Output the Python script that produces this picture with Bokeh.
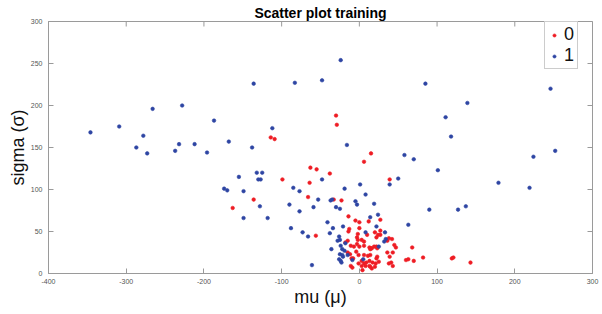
import math
from bokeh.plotting import figure
from bokeh.models import ColumnDataSource, FixedTicker, Range1d
from bokeh.embed import file_html
from bokeh.resources import INLINE

# ---- data ----
blue_mu = [-346, -309, -266, -278, -287, -273, -228, -232, -237, -212, -187, -196, -168,
           -155, -174, -170, -149, -149, -132, -125, -130, -127, -128, -118, -85, -77, -90,
           -77, -88, -136, -83, -48, -24, -112, -138, -16, 58, -48, 50, -19, 1, 39, 85, 139,
           111, 118, 70, 101, 246, 224, 252, 179, 219, 19, 24, 14, 90, 127, 137, 63, 22, 33,
           34, 32, 25, -53, -37, -35, 8, -5, -3, -59, -30, -25, -41, -34, -21, -73, -66, -38,
           -26, -28, 8, -24, -22, -19, -26, -24, -21, -15, -61, -36, -25, -22, -9, 5, -23,
           -25, -18]
blue_sigma = [168, 175, 196, 164, 150, 143, 200, 154, 146, 154, 182, 144, 157,
              115, 101, 99, 98, 66, 120, 120, 112, 112, 80, 66, 102, 98, 82,
              74, 54, 226, 227, 230, 254, 173, 150, 153, 141, 112, 113, 101, 106, 106, 226, 203,
              186, 163, 136, 123, 220, 139, 146, 108, 102, 83, 70, 67, 76, 76, 80, 58, 56, 49,
              41, 38, 32, 88, 87, 88, 94, 86, 82, 79, 79, 77, 61, 54, 56, 49, 44, 48,
              44, 39, 49, 33, 29, 27, 17, 15, 20, 22, 10, 29, 23, 22, 16, 17, 13,
              40, 36]

red_mu = [-163, -99, -136, -30, -29, -114, -109, 15, 6, -63, -55, -38, 39, -64, -66, -33, -23,
          -14, -5, 0, 12, 27, -13, 0, -56, -14, -2, 10, 20, 27, 24, 27, 22, 38, 42, 36, 45,
          47, 68, 16, 14, 23, 36, 43, 14, 23, 22, 39, 60, 63, 82, 70, 119, 121, 143, 25, 21,
          38, 41, 43, 14, -15, -18, -3, -2, 3, 6, -11, -7, -3, 0, 6, 13, 15, 19, 22, -15, -12,
          -4, -1, 6, 11, -10, -8, 3, 9, 13, 6, 17, -11, -1, 4, 3, 13, 20, -9, 8, 16]
red_sigma = [78, 112, 88, 188, 177, 162, 160, 143, 133, 126, 124, 119, 112, 108, 91, 88, 87,
             68, 63, 61, 62, 64, 53, 54, 45, 50, 47, 46, 49, 51, 46, 46, 43, 42, 41, 39, 34,
             31, 31, 30, 29, 30, 25, 25, 22, 20, 18, 20, 16, 17, 19, 15, 18, 19, 13, 14, 12,
             12, 13, 9, 8, 39, 37, 43, 40, 40, 38, 33, 32, 35, 32, 33, 31, 30, 32, 32, 25, 23,
             26, 22, 22, 21, 18, 18, 15, 13, 15, 12, 13, 9, 12, 4, 9, 9, 8, 7, 9, 6]

class_labels = ["0", "1"]
title_text = "Scatter plot training"
x_label = "mu (μ)"
y_label = "sigma (σ)"
x_ticks = [-400, -300, -200, -100, 0, 100, 200, 300]
x_tick_labels = ["-400", "-300", "-200", "-100", "0", "100", "200", "300"]
y_ticks = [0, 50, 100, 150, 200, 250, 300]
y_tick_labels = ["0", "50", "100", "150", "200", "250", "300"]

X_MIN, X_MAX = x_ticks[0], x_ticks[-1]
Y_MIN, Y_MAX = y_ticks[0], y_ticks[-1]

FONT = "Liberation Sans"
AXIS_GRAY = "#9a9a9a"
RED = "#ee1c24"
BLUE = "#2e45a3"

p = figure(frame_width=544, frame_height=252,
           x_range=Range1d(X_MIN, X_MAX), y_range=Range1d(Y_MIN, Y_MAX),
           output_backend="svg", toolbar_location=None, title=title_text,
           min_border_left=48, min_border_right=8, min_border_top=21, min_border_bottom=39)
p.xgrid.visible = False
p.ygrid.visible = False
p.outline_line_color = AXIS_GRAY
p.outline_line_width = 1
p.background_fill_color = "white"
p.border_fill_color = "white"

p.title.align = "center"
p.title.text_font = FONT
p.title.text_font_size = "14px"
p.title.text_font_style = "bold"
p.title.text_color = "#000000"
p.title.text_line_height = 1.0
p.title.standoff = 2

src0 = ColumnDataSource(dict(mu=red_mu, sigma=red_sigma))
src1 = ColumnDataSource(dict(mu=blue_mu, sigma=blue_sigma))
p.scatter("mu", "sigma", source=src0, size=3.6, fill_color=RED, line_color=RED,
          line_width=0.6, legend_label=class_labels[0])
p.scatter("mu", "sigma", source=src1, size=3.6, fill_color=BLUE, line_color=BLUE,
          line_width=0.6, legend_label=class_labels[1])

# inward ticks on the top and right edges of the box (clipped to the frame)
p.scatter(x_ticks, [Y_MAX] * len(x_ticks), marker="dash", size=10, angle=math.pi / 2,
          line_color=AXIS_GRAY, line_width=1)
p.scatter([X_MAX] * len(y_ticks), y_ticks, marker="dash", size=10,
          line_color=AXIS_GRAY, line_width=1)

def style_axis(ax, ticks, labels):
    ax.ticker = FixedTicker(ticks=ticks)
    ax.major_label_overrides = {t: l for t, l in zip(ticks, labels)}
    ax.major_tick_in = 5
    ax.major_tick_out = 0
    ax.minor_tick_in = 0
    ax.minor_tick_out = 0
    ax.axis_line_color = AXIS_GRAY
    ax.major_tick_line_color = AXIS_GRAY
    ax.major_label_text_font = FONT
    ax.major_label_text_color = "#555555"
    ax.major_label_text_font_size = "7px"
    ax.axis_label_text_font = FONT
    ax.axis_label_text_font_size = "18px"
    ax.axis_label_text_font_style = "normal"
    ax.axis_label_text_color = "#111111"

style_axis(p.xaxis[0], x_ticks, x_tick_labels)
style_axis(p.yaxis[0], y_ticks, y_tick_labels)
p.xaxis[0].axis_label = x_label
p.yaxis[0].axis_label = y_label
p.xaxis[0].major_label_standoff = 5
p.xaxis[0].axis_label_standoff = 0
p.yaxis[0].major_label_standoff = 6
p.yaxis[0].axis_label_standoff = 0

lg = p.legend[0]
lg.location = (496, 204)
lg.label_text_font = FONT
lg.label_text_font_size = "18px"
lg.label_text_line_height = 1.0
lg.label_text_color = "#111111"
lg.glyph_width = 14
lg.glyph_height = 8
lg.label_width = 11
lg.label_height = 20
lg.label_standoff = 3
lg.padding = 2
lg.spacing = 0
lg.margin = 0
lg.border_line_color = AXIS_GRAY
lg.background_fill_alpha = 1

open("out.html", "w").write(file_html(p, INLINE))
